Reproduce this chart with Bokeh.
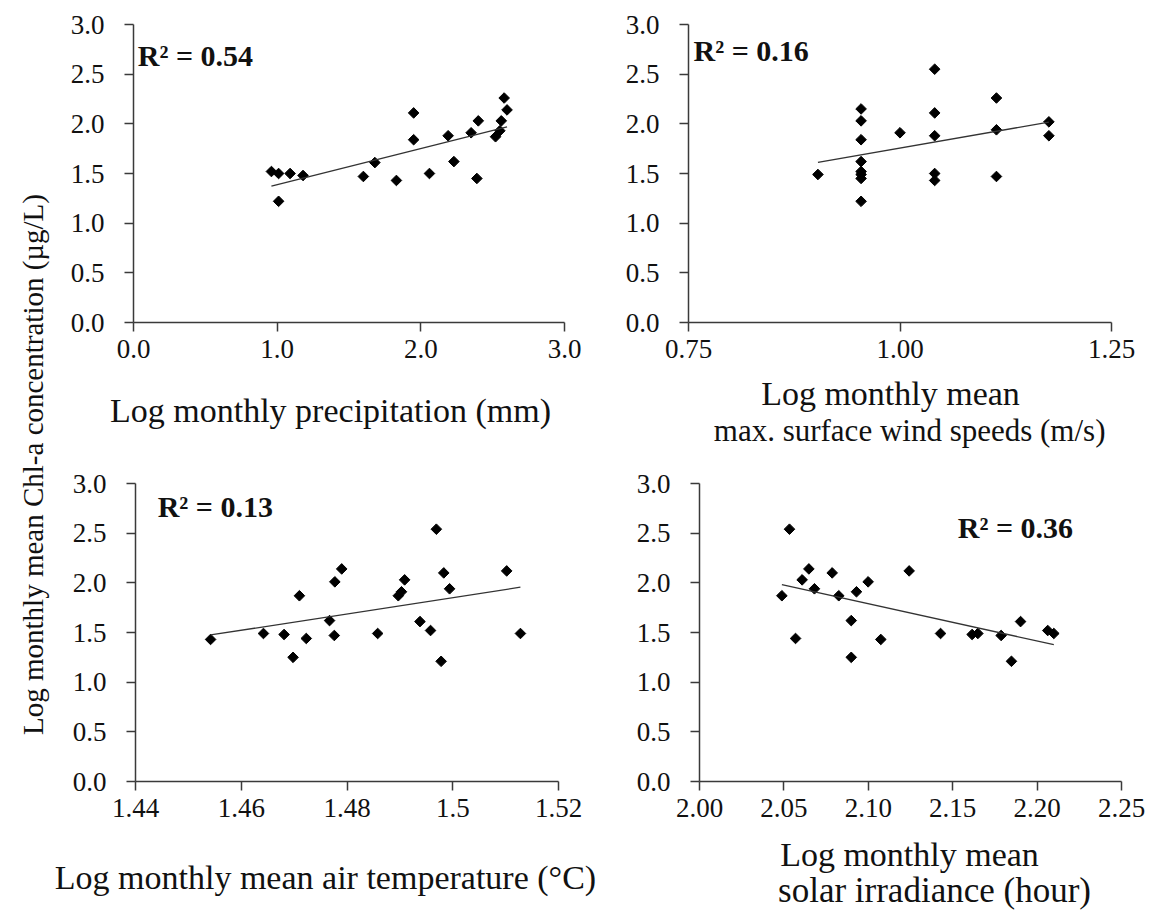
import numpy as np
from bokeh.plotting import figure
from bokeh.layouts import row, column
from bokeh.models import Range1d, FixedTicker, Label
from bokeh.embed import file_html
from bokeh.resources import INLINE

FONT = "Liberation Serif"

# ---- data ----
precip_x = [0.96, 1.01, 1.01, 1.09, 1.18, 1.60, 1.68, 1.83, 1.95, 1.95, 2.06,
            2.19, 2.23, 2.35, 2.40, 2.39, 2.52, 2.55, 2.56, 2.58, 2.60]
precip_y = [1.52, 1.50, 1.22, 1.50, 1.48, 1.47, 1.61, 1.43, 2.11, 1.84, 1.50,
            1.88, 1.62, 1.91, 2.03, 1.45, 1.87, 1.93, 2.03, 2.26, 2.14]

wind_x = [0.903, 0.954, 0.954, 0.954, 0.954, 0.954, 0.954, 0.954, 0.954, 1.000,
          1.041, 1.041, 1.041, 1.041, 1.041, 1.114, 1.114, 1.114, 1.176, 1.176]
wind_y = [1.49, 2.15, 2.03, 1.84, 1.62, 1.52, 1.49, 1.45, 1.22, 1.91,
          2.55, 2.11, 1.88, 1.50, 1.43, 2.26, 1.94, 1.47, 2.02, 1.88]

temp_x = [1.4542, 1.4642, 1.4681, 1.4698, 1.4710, 1.4723, 1.4767, 1.4776, 1.4777,
          1.4790, 1.4858, 1.4897, 1.4903, 1.4909, 1.4938, 1.4958, 1.4969, 1.4978,
          1.4983, 1.4994, 1.5102, 1.5128]
temp_y = [1.43, 1.49, 1.48, 1.25, 1.87, 1.44, 1.62, 1.47, 2.01, 2.14, 1.49, 1.87,
          1.91, 2.03, 1.61, 1.52, 2.54, 1.21, 2.10, 1.94, 2.12, 1.49]

solar_x = [2.0488, 2.0533, 2.0569, 2.0608, 2.0648, 2.0681, 2.0786, 2.0825, 2.0899,
           2.0899, 2.0930, 2.0999, 2.1074, 2.1242, 2.1428, 2.1615, 2.1649, 2.1787,
           2.1848, 2.1902, 2.2063, 2.2099]
solar_y = [1.87, 2.54, 1.44, 2.03, 2.14, 1.94, 2.10, 1.87, 1.62, 1.25, 1.91, 2.01,
           1.43, 2.12, 1.49, 1.48, 1.49, 1.47, 1.21, 1.61, 1.52, 1.49]

y_ticks = [0.0, 0.5, 1.0, 1.5, 2.0, 2.5, 3.0]
y_tick_labels = ["0.0", "0.5", "1.0", "1.5", "2.0", "2.5", "3.0"]

precip_ticks = [0.0, 1.0, 2.0, 3.0]
precip_labels = ["0.0", "1.0", "2.0", "3.0"]
wind_ticks = [0.75, 1.0, 1.25]
wind_labels = ["0.75", "1.00", "1.25"]
temp_ticks = [1.44, 1.46, 1.48, 1.5, 1.52]
temp_labels = ["1.44", "1.46", "1.48", "1.5", "1.52"]
solar_ticks = [2.0, 2.05, 2.1, 2.15, 2.2, 2.25]
solar_labels = ["2.00", "2.05", "2.10", "2.15", "2.20", "2.25"]

r2_texts = ["R\u00b2 = 0.54", "R\u00b2 = 0.16", "R\u00b2 = 0.13", "R\u00b2 = 0.36"]
precip_title = ["Log monthly precipitation (mm)"]
wind_title = ["Log monthly mean", "max. surface wind speeds  (m/s)"]
temp_title = ["Log monthly mean air temperature (\u00b0C)"]
solar_title = ["Log monthly mean", "solar irradiance (hour)"]
y_title = "Log monthly mean Chl-a concentration (\u00b5g/L)"

AXIS_COLOR = "#3a3a3a"
TEXT_COLOR = "#111111"
LW = 50          # width of the strip holding the shared y title
PB = 50          # bottom border of each panel (tick labels)
H = 910


def panel(x, y, xr, ticks, labels, r2, r2pos, fw, left, right, top):
    p = figure(x_range=Range1d(*xr), y_range=Range1d(0, 3),
               frame_width=fw, frame_height=298,
               min_border_left=left, min_border_right=right,
               min_border_top=top, min_border_bottom=PB,
               toolbar_location=None, output_backend="svg")
    p.grid.visible = False
    p.outline_line_color = None
    p.background_fill_color = "white"
    p.border_fill_color = "white"

    p.xaxis.ticker = FixedTicker(ticks=ticks)
    p.xaxis.major_label_overrides = {t: l for t, l in zip(ticks, labels)}
    p.yaxis.ticker = FixedTicker(ticks=y_ticks)
    p.yaxis.major_label_overrides = {t: l for t, l in zip(y_ticks, y_tick_labels)}

    for ax in (p.xaxis, p.yaxis):
        ax.axis_line_color = AXIS_COLOR
        ax.axis_line_width = 1.5
        ax.major_tick_line_color = AXIS_COLOR
        ax.major_tick_line_width = 1.5
        ax.major_tick_in = 0
        ax.major_tick_out = 9
        ax.minor_tick_line_color = None
        ax.major_label_text_font = FONT
        ax.major_label_text_font_size = "27px"
        ax.major_label_text_color = TEXT_COLOR
    p.xaxis.major_label_standoff = 8
    p.yaxis.major_label_standoff = 20

    p.scatter(x, y, marker="square", size=7.5, angle=np.pi / 4,
              fill_color="black", line_color="black")

    slope, intercept = np.polyfit(x, y, 1)
    xs = [min(x), max(x)]
    p.line(xs, [slope * v + intercept for v in xs], line_color="#333333", line_width=1.3)

    p.add_layout(Label(x=r2pos[0], y=r2pos[1], text=r2, text_font=FONT,
                       text_font_style="bold", text_font_size="30px",
                       text_color=TEXT_COLOR, text_baseline="alphabetic"))
    return p


def title_strip(width, height, items):
    t = figure(frame_width=width, frame_height=height,
               min_border=0, min_border_left=0, min_border_right=0,
               min_border_top=0, min_border_bottom=0,
               toolbar_location=None, output_backend="svg",
               x_range=Range1d(0, 1), y_range=Range1d(0, 1))
    t.axis.visible = False
    t.grid.visible = False
    t.outline_line_color = None
    for text, (tx, ty), size in items:
        t.add_layout(Label(x=tx, y=ty, x_units="screen", y_units="screen",
                           text=text, text_font=FONT, text_font_size=size,
                           text_align="center", text_baseline="middle",
                           text_color=TEXT_COLOR))
    return t


p1 = panel(precip_x, precip_y, (0, 3), precip_ticks, precip_labels,
           r2_texts[0], (0.03, 2.69), 431, 133 - LW, 24, 24)
p2 = panel(wind_x, wind_y, (0.75, 1.25), wind_ticks, wind_labels,
           r2_texts[1], (0.756, 2.74), 423, 688 - (133 + 431 + 24), 32, 24)
p3 = panel(temp_x, temp_y, (1.44, 1.52), temp_ticks, temp_labels,
           r2_texts[2], (1.4442, 2.77), 423, 135 - LW, 42, 16)
p4 = panel(solar_x, solar_y, (2.0, 2.25), solar_ticks, solar_labels,
           r2_texts[3], (2.153, 2.56), 422, 699 - (135 + 423 + 42), 24, 16)

ROW1_BOTTOM = 24 + 298 + PB
ROW2_TOP = 467
ROW2_BOTTOM = ROW2_TOP + 16 + 298 + PB
top_titles = title_strip(1095, ROW2_TOP - ROW1_BOTTOM, [
    (precip_title[0], (330 - LW, ROW2_TOP - 410), "34px"),
    (wind_title[0], (890 - LW, ROW2_TOP - 393), "34px"),
    (wind_title[1], (913 - LW, ROW2_TOP - 430), "31px"),
])
bot_titles = title_strip(1095, H - ROW2_BOTTOM, [
    (temp_title[0], (325 - LW, H - 877), "34px"),
    (solar_title[0], (909 - LW, H - 854), "34px"),
    (solar_title[1], (934 - LW, H - 890), "35px"),
])

lab = figure(frame_width=LW, frame_height=H,
             min_border=0, min_border_left=0, min_border_right=0,
             min_border_top=0, min_border_bottom=0,
             toolbar_location=None, output_backend="svg",
             x_range=Range1d(0, 1), y_range=Range1d(0, 1))
lab.axis.visible = False
lab.grid.visible = False
lab.outline_line_color = None
lab.add_layout(Label(x=32, y=H - 464, x_units="screen", y_units="screen",
                     text=y_title, angle=np.pi / 2, text_align="center",
                     text_baseline="alphabetic", text_font=FONT,
                     text_font_size="29px", text_color=TEXT_COLOR))

layout = row(lab, column(row(p1, p2), top_titles, row(p3, p4), bot_titles))

open("out.html", "w").write(file_html(layout, INLINE))
